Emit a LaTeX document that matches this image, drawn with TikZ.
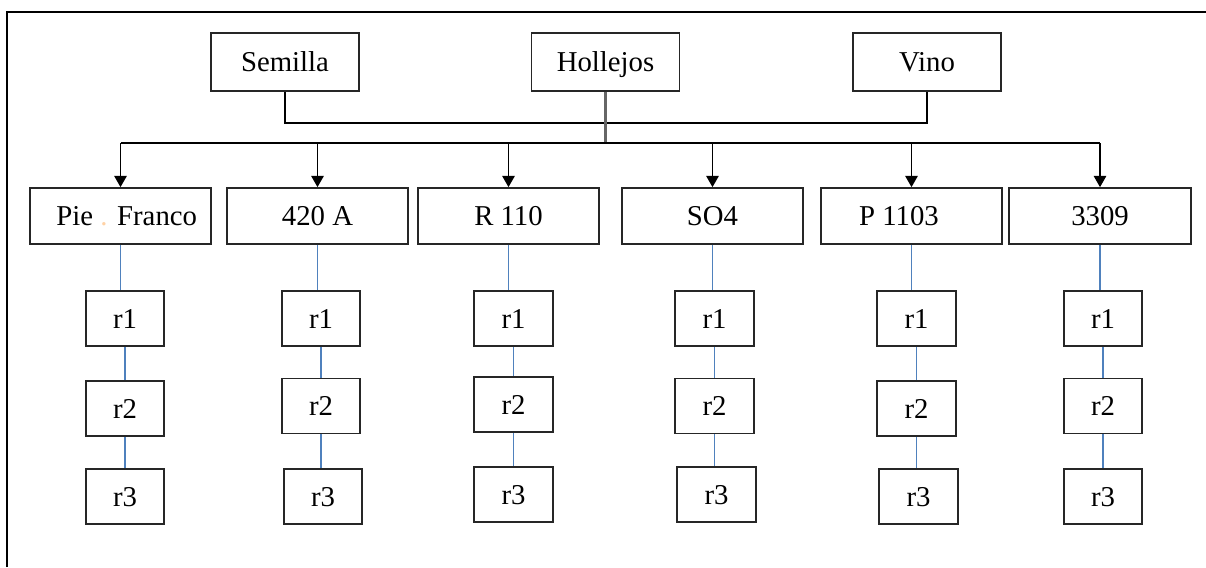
\documentclass[tikz,border=0pt]{standalone}
\usepackage{fontspec}
\setmainfont{Liberation Serif}
\usepackage{xcolor}
\usetikzlibrary{arrows.meta}
\definecolor{azul}{RGB}{79,129,189}

\tikzset{
	caja/.style={draw=black!85, line width=0.7pt, inner sep=0pt, text height=7.6pt, text depth=0pt, font=\fontsize{11.5}{13}\selectfont},
	cajasup/.style={caja, minimum width=59.2pt, minimum height=23.2pt},
	cajapie/.style={caja, minimum width=72.6pt, minimum height=22.4pt},
	cajarep/.style={caja, minimum width=31.4pt, minimum height=22pt},
	flecha/.style={line width=0.55pt, -{Triangle[width=5pt,length=4.5pt]}},
	enlace/.style={draw=azul, line width=0.55pt},
}

\begin{document}
\begin{tikzpicture}[x=0.4pt, y=-0.4pt]
		\useasboundingbox (0,0) rectangle (1206,567);
		% Marco
		\draw[line width=0.85pt] (7,567) -- (7,12) -- (1206,12);
		
		% Muestras
		\node[cajasup] (sem) at (285,62) {Semilla};
		\node[cajasup] (hol) at (605.5,62) {Hollejos};
		\node[cajasup] (vin) at (927,62) {Vino};
		
		% Portainjertos
		\node[cajapie] (pf) at (120.5,216) {Pie {\color{orange!35}.} Franco\hspace*{-5pt}};
		\node[cajapie] (a420) at (317.5,216) {420 A};
		\node[cajapie] (r110) at (508.5,216) {R 110};
		\node[cajapie] (so4) at (712.5,216) {SO4};
		\node[cajapie] (p1103) at (911.5,216) {P 1103\hspace*{10pt}};
		\node[cajapie] (n3309) at (1100,216) {3309};
		
		% Repeticiones
		\node[cajarep] (pf1) at (125,318.5) {r1};
		\node[cajarep] (pf2) at (125,408.5) {r2};
		\node[cajarep] (pf3) at (125,496.5) {r3};
		\node[cajarep] (a4201) at (321,318.5) {r1};
		\node[cajarep] (a4202) at (321,406) {r2};
		\node[cajarep] (a4203) at (323,496.5) {r3};
		\node[cajarep] (r1101) at (513.5,318.5) {r1};
		\node[cajarep] (r1102) at (513.5,404.5) {r2};
		\node[cajarep] (r1103) at (513.5,494.5) {r3};
		\node[cajarep] (so41) at (714.5,318.5) {r1};
		\node[cajarep] (so42) at (714.5,406) {r2};
		\node[cajarep] (so43) at (716.5,494.5) {r3};
		\node[cajarep] (p11031) at (916.5,318.5) {r1};
		\node[cajarep] (p11032) at (916.5,408.5) {r2};
		\node[cajarep] (p11033) at (918.5,496.5) {r3};
		\node[cajarep] (n33091) at (1103,318.5) {r1};
		\node[cajarep] (n33092) at (1103,406) {r2};
		\node[cajarep] (n33093) at (1103,496.5) {r3};
		
		% Lineas de union
		\coordinate (lazo) at (0,123);
		\coordinate (bus) at (0,143);
		\draw[line width=0.6pt] (sem.south) -- (sem.south |- lazo) -- (vin.south |- lazo) -- (vin.south);
		\draw[line width=0.9pt, black!60] (hol.south) -- (hol.south |- bus);
		\draw[line width=0.6pt] (pf.north |- bus) -- (n3309.north |- bus);
		\draw[flecha] (pf.north |- bus) -- (pf.north);
		\draw[flecha] (a420.north |- bus) -- (a420.north);
		\draw[flecha] (r110.north |- bus) -- (r110.north);
		\draw[flecha] (so4.north |- bus) -- (so4.north);
		\draw[flecha] (p1103.north |- bus) -- (p1103.north);
		\draw[flecha] (n3309.north |- bus) -- (n3309.north);
		
		% Lineas azules
		\draw[enlace] (pf.south) -- (pf.south |- pf1.north);
		\draw[enlace] (pf1.south) -- (pf1.south |- pf2.north);
		\draw[enlace] (pf2.south) -- (pf2.south |- pf3.north);
		\draw[enlace] (a420.south) -- (a420.south |- a4201.north);
		\draw[enlace] (a4201.south) -- (a4201.south |- a4202.north);
		\draw[enlace] (a4202.south) -- (a4202.south |- a4203.north);
		\draw[enlace] (r110.south) -- (r110.south |- r1101.north);
		\draw[enlace] (r1101.south) -- (r1101.south |- r1102.north);
		\draw[enlace] (r1102.south) -- (r1102.south |- r1103.north);
		\draw[enlace] (so4.south) -- (so4.south |- so41.north);
		\draw[enlace] (so41.south) -- (so41.south |- so42.north);
		\draw[enlace] (so42.south) -- (so42.south |- so43.north);
		\draw[enlace] (p1103.south) -- (p1103.south |- p11031.north);
		\draw[enlace] (p11031.south) -- (p11031.south |- p11032.north);
		\draw[enlace] (p11032.south) -- (p11032.south |- p11033.north);
		\draw[enlace] (n3309.south) -- (n3309.south |- n33091.north);
		\draw[enlace] (n33091.south) -- (n33091.south |- n33092.north);
		\draw[enlace] (n33092.south) -- (n33092.south |- n33093.north);
	\end{tikzpicture}
\end{document}
